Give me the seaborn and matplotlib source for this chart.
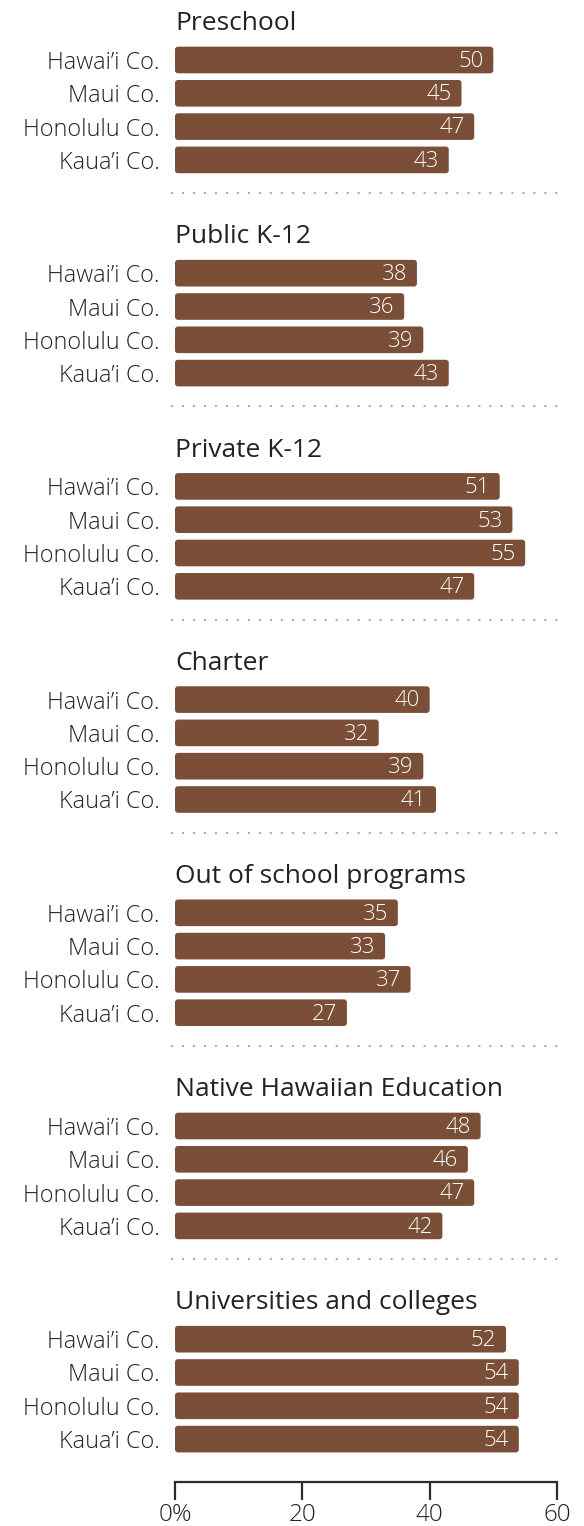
import matplotlib
matplotlib.use("Agg")
import matplotlib.pyplot as plt
from matplotlib.patches import FancyBboxPatch
import seaborn as sns
import pandas as pd

# ---- data ----
sectors = ["Preschool", "Public K-12", "Private K-12", "Charter",
           "Out of school programs", "Native Hawaiian Education",
           "Universities and colleges"]
counties = ["Hawai\u2019i Co.", "Maui Co.", "Honolulu Co.", "Kaua\u2019i Co."]
preschool = [50, 45, 47, 43]
public_k12 = [38, 36, 39, 43]
private_k12 = [51, 53, 55, 47]
charter = [40, 32, 39, 41]
out_of_school = [35, 33, 37, 27]
native_hawaiian = [48, 46, 47, 42]
universities = [52, 54, 54, 54]
series = [preschool, public_k12, private_k12, charter, out_of_school,
          native_hawaiian, universities]
x_ticks = [0, 20, 40, 60]
x_tick_labels = ["0%", "20", "40", "60"]

# ---- style ----
sns.set_theme(style="white")
plt.rcParams["font.family"] = ["Open Sans", "DejaVu Sans"]

BAR = "#7a4e37"
TXT = "#222222"
W, H = 584, 1526
fig = plt.figure(figsize=(W / 100, H / 100), dpi=100, facecolor="white")

left_px, right_px = 175, 557
band = 33.3
period = 213.2
first_top = 60 - band / 2
x_per_px = 60 / (right_px - left_px)
y_per_px = 1 / band

axes = []
for i, (name, vals) in enumerate(zip(sectors, series)):
    top = first_top + i * period
    ax = fig.add_axes([left_px / W, 1 - (top + 4 * band) / H,
                       (right_px - left_px) / W, 4 * band / H])
    df = pd.DataFrame({"county": counties, "value": vals})
    sns.barplot(data=df, x="value", y="county", orient="h", color=BAR,
                saturation=1, width=0.8, ax=ax)
    ax.set_xlim(0, 60)
    ax.set_ylim(3.5, -0.5)
    ax.set_xlabel("")
    ax.set_ylabel("")
    for s in ax.spines.values():
        s.set_visible(False)
    ax.set_xticks([])
    ax.tick_params(axis="y", length=0, pad=11, labelsize=16.8,
                   labelcolor=TXT)
    for lab in ax.get_yticklabels():
        lab.set_fontweight("light")
    # rounded corners: replace each bar rectangle with a rounded box
    for p, v in zip(list(ax.patches), vals):
        x0, y0, w, h = p.get_x(), p.get_y(), p.get_width(), p.get_height()
        p.set_visible(False)
        ax.add_patch(FancyBboxPatch(
            (x0, y0), w, h,
            boxstyle=f"round,pad=0,rounding_size={3 * x_per_px:.3f}",
            mutation_aspect=y_per_px / x_per_px,
            facecolor=BAR, edgecolor="none"))
        ax.annotate(f"{v}", xy=(x0 + w, y0 + h / 2),
                    xytext=(-7, -1), textcoords="offset points",
                    ha="right", va="center", color="white",
                    fontsize=16, fontweight="light")
    ax.annotate(name, xy=(0, -0.5), xycoords="data", xytext=(0, 9.5),
                textcoords="offset points", ha="left", va="baseline",
                fontsize=19, color=TXT)
    if i < len(sectors) - 1:
        ax.plot([-0.4, 60], [4.0, 4.0], color="#ababab", lw=1.7,
                linestyle=(0, (0.05, 4.6)), dash_capstyle="round",
                clip_on=False)
    axes.append(ax)

last = axes[-1]
last.spines["bottom"].set_visible(True)
last.spines["bottom"].set_position(("outward", 19))
last.spines["bottom"].set_color("#2b2b2b")
last.spines["bottom"].set_linewidth(1.6)
last.set_xticks(x_ticks)
last.set_xticklabels(x_tick_labels)
last.tick_params(axis="x", bottom=True, direction="out", length=13,
                 width=1.6, color="#2b2b2b", labelsize=17.5, pad=2,
                 labelcolor=TXT)
for lab in last.get_xticklabels():
    lab.set_fontweight("light")

fig.savefig("out.png", dpi=100, facecolor="white")
